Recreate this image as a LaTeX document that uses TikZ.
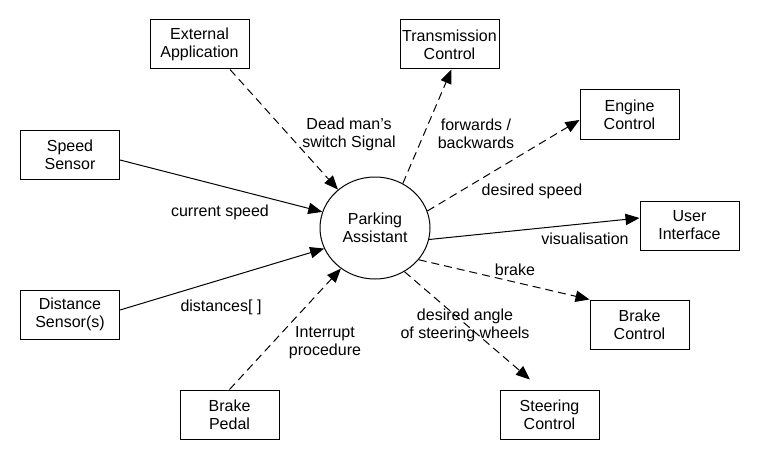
\documentclass[tikz,border=0pt]{standalone}
\usepackage{fontspec}
\setmainfont{Liberation Sans}
\usetikzlibrary{arrows.meta,calc,shapes.geometric}
\begin{document}
\begin{tikzpicture}[x=0.75pt,y=-0.75pt,
  every node/.style={font=\fontsize{12}{13.5}\selectfont, align=center},
  box/.style={draw, line width=0.75pt, minimum width=74.25pt, minimum height=36.75pt, inner sep=0pt},
  proc/.style={draw, ellipse, line width=0.75pt, minimum width=82.5pt, minimum height=76.5pt, inner sep=0pt},
  lbl/.style={inner sep=0pt},
  flow/.style={line width=0.75pt, -{Triangle[length=10.5pt,width=8.5pt]}},
  ctrl/.style={flow, dash pattern=on 6pt off 3.75pt}]
\useasboundingbox (0,0) rectangle (760,460);
\fill[white] (0,0) rectangle (760,460);

\node[box] (ext) at (199.5,44.5) {External\\Application};
\node[box] (tm) at (449.5,44.5) {Transmission\\Control};
\node[box] (spd) at (70,154.5) {Speed\\Sensor};
\node[box] (eng) at (629.5,114.5) {Engine\\Control};
\node[box] (ui) at (689.5,225.5) {User\\Interface};
\node[box] (dist) at (70,314.5) {Distance\\Sensor(s)};
\node[box] (bp) at (229.5,414.5) {Brake\\Pedal};
\node[box] (bc) at (639.5,324.5) {Brake\\Control};
\node[box] (st) at (549.5,414.5) {Steering\\Control};
\node[proc] (pa) at (375,228) {Parking\\Assistant};

\draw[ctrl] ($(ext.south)+(30.5,0)$) -- (pa.134);
\draw[flow] ($(spd.east)+(0,5.5)$) -- (pa.163);
\draw[flow] ($(dist.east)+(0,-4.5)$) -- (pa.202);
\draw[ctrl] (bp.north) -- (pa.230);
\draw[ctrl] (pa.58) -- ($(tm.south)+(2,0)$);
\draw[ctrl] (pa.18) -- ($(eng.west)+(0,5.5)$);
\draw[flow] (pa.348) -- ($(ui.west)+(0,-7.5)$);
\draw[ctrl] (pa.324) -- (bc.north west);
\draw[ctrl] (pa.304) -- ($(st.north)+(-19.5,-10)$);

\node[lbl] (l1) at (349,134) {Dead man{\char"27}s\\switch Signal};
\node[lbl] (l2) at (476,134) {forwards /\\backwards};
\node[lbl] (l3) at (532,191) {desired speed};
\node[lbl] (l4) at (220,212) {current speed};
\node[lbl] (l5) at (585,239) {visualisation};
\node[lbl] (l6) at (515,270) {brake};
\node[lbl] (l7) at (465,325) {desired angle\\of steering wheels};
\node[lbl] (l8) at (221,307) {distances[ ]};
\node[lbl] (l9) at (325,343) {Interrupt\\procedure};
\end{tikzpicture}
\end{document}
